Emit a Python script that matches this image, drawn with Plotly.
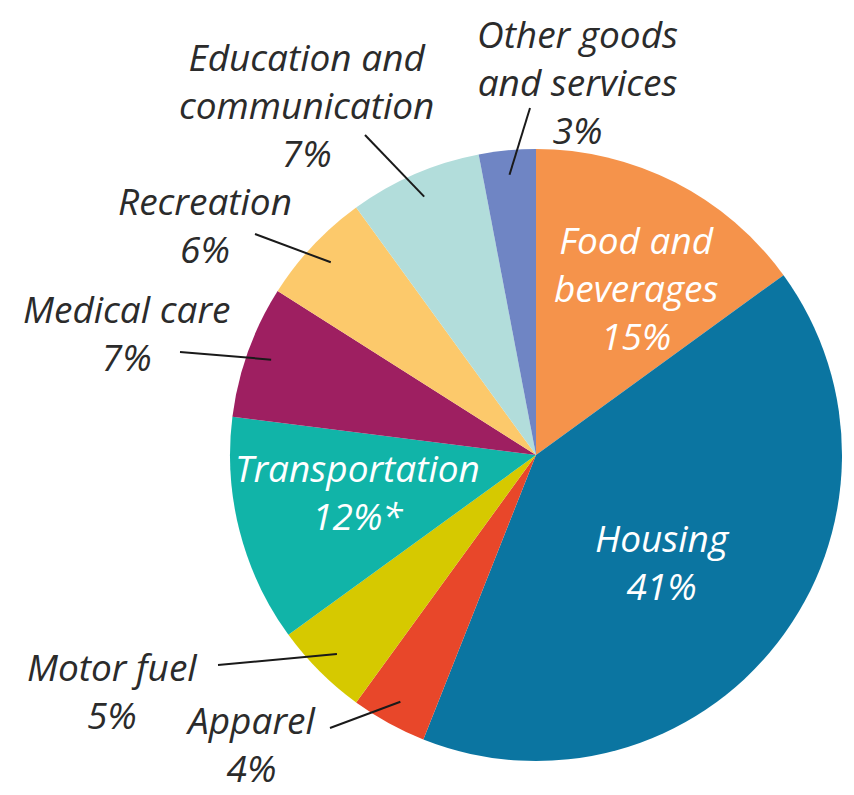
import math
import plotly.graph_objects as go

# ---- data ----
categories = ["Food and beverages", "Housing", "Apparel", "Motor fuel", "Transportation",
              "Medical care", "Recreation", "Education and communication", "Other goods and services"]
shares = [15, 41, 4, 5, 12, 7, 6, 7, 3]
label_lines = [["Food and", "beverages"], ["Housing"], ["Apparel"], ["Motor fuel"], ["Transportation"],
               ["Medical care"], ["Recreation"], ["Education and", "communication"], ["Other goods", "and services"]]
pct_suffix = ["", "", "", "", "*", "", "", "", ""]

# ---- styles ----
colors = ["#F5934B", "#0B75A1", "#E8472A", "#D6C900", "#11B4A8",
          "#9E1F61", "#FCC96B", "#B2DDDB", "#6F85C4"]
inside = [True, True, False, False, True, False, False, False, False]

PAGE_W, PAGE_H = 854, 795
OFF = 8  # default page body margin
W, H = PAGE_W - OFF, PAGE_H - OFF
CX, CY, R = 536, 455, 306  # pie centre / radius in page pixels

# label centres (page pixels) and leader-line outer ends
label_pos = {
    "Food and beverages": (636, 288),
    "Housing": (662, 561),
    "Apparel": (250, 743),
    "Motor fuel": (112, 690),
    "Transportation": (357, 491),
    "Medical care": (126, 332),
    "Recreation": (205, 225),
    "Education and communication": (306, 104),
    "Other goods and services": (577, 82),
}
leader_start = {
    "Apparel": (330, 728),
    "Motor fuel": (218, 665),
    "Medical care": (180, 352),
    "Recreation": (255, 234),
    "Education and communication": (365, 135),
    "Other goods and services": (530, 108),
}

def px(x):
    return (x - OFF) / W

def py(y):
    return 1 - (y - OFF) / H

fig = go.Figure(go.Pie(
    labels=categories,
    values=shares,
    sort=False,
    direction="clockwise",
    rotation=0,
    marker=dict(colors=colors, line=dict(width=0)),
    textinfo="none",
    hoverinfo="label+percent",
    showlegend=False,
    domain=dict(x=[px(CX - R), px(CX + R)], y=[py(CY + R), py(CY - R)]),
))

annotations = []
shapes = []
total = sum(shares)
cum = 0
for cat, v, lines, suf, ins in zip(categories, shares, label_lines, pct_suffix, inside):
    mid = (cum + v / 2) / total * 2 * math.pi
    cum += v
    pct = f"{round(v / total * 100)}%{suf}"
    text = "<br>".join(lines + [pct])
    lx, ly = label_pos[cat]
    annotations.append(dict(
        x=px(lx), y=py(ly), xref="paper", yref="paper",
        text=text, showarrow=False, xanchor="center", yanchor="middle",
        align="center", borderpad=0,
        font=dict(family="Open Sans", size=37, color="white" if ins else "#2b2b2b", style="italic"),
    ))
    if cat in leader_start:
        sx, sy = leader_start[cat]
        ex = CX + 0.92 * R * math.sin(mid)
        ey = CY - 0.92 * R * math.cos(mid)
        shapes.append(dict(type="line", xref="paper", yref="paper",
                           x0=px(sx), y0=py(sy), x1=px(ex), y1=py(ey),
                           line=dict(color="#1a1a1a", width=2)))

fig.update_layout(
    width=W, height=H,
    margin=dict(l=0, r=0, t=0, b=0),
    paper_bgcolor="white", plot_bgcolor="white",
    annotations=annotations, shapes=shapes,
)

fig.write_html("out.html")
